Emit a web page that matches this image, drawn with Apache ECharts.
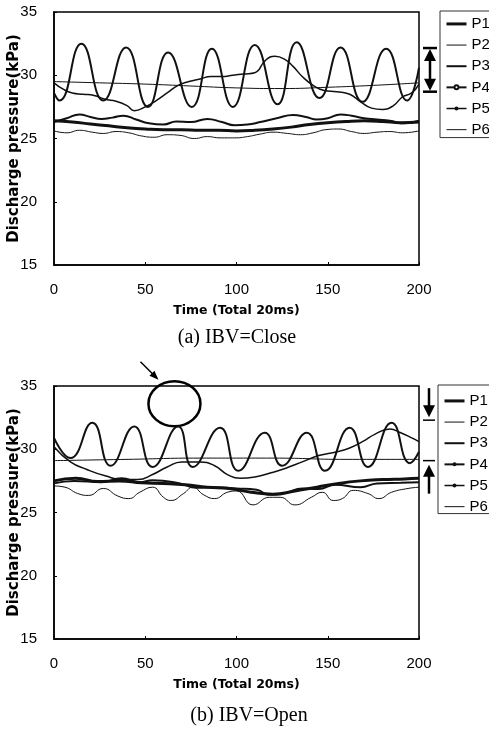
<!DOCTYPE html>
<html>
<head>
    <title>Discharge pressure: IBV Close / Open</title>
    <script src="https://cdn.jsdelivr.net/npm/echarts@6.0.0/dist/echarts.min.js"></script>
    <style>
      body { margin: 0; background: #fff; }
    </style>
</head>
<body>
    <div id="chartA" style="position:absolute; left:0; top:0; width:489px; height:355px;"></div>
    <div id="chartB" style="position:absolute; left:0; top:355px; width:489px; height:374px;"></div>
    <script>
        var seriesNames = ['P1', 'P2', 'P3', 'P4', 'P5', 'P6'];

        // (a) IBV=Close
        var closeP1X = [0, 10, 20, 30, 40, 50, 60, 70, 80, 90, 100, 110, 120, 130, 140, 150, 160, 170, 180, 190, 200];
        var closeP1Y = [26.4, 26.3, 26.15, 26.0, 25.85, 25.75, 25.7, 25.7, 25.65, 25.65, 25.6, 25.65, 25.75, 25.9, 26.1, 26.25, 26.35, 26.4, 26.35, 26.25, 26.3];
        var closeP2X = [0, 25, 50, 75, 100, 125, 150, 175, 200];
        var closeP2Y = [29.5, 29.4, 29.3, 29.15, 29.0, 28.95, 29.05, 29.2, 29.4];
        var closeP3X = [0, 7, 14, 20, 26, 32, 38, 45, 52, 60, 67, 75, 84, 92, 99, 106, 113, 122, 131, 138, 144, 150, 157, 163, 170, 177, 184, 192, 200];
        var closeP3Y = [26.3, 26.6, 26.9, 26.7, 26.55, 26.65, 26.8, 26.5, 26.2, 26.1, 26.35, 26.3, 26.55, 26.3, 26.05, 26.1, 26.3, 26.6, 26.85, 26.7, 26.5, 26.6, 26.9, 26.8, 26.6, 26.5, 26.4, 26.2, 26.4];
        var closeP4X = [0, 3, 15, 27, 39.5, 51.5, 62.5, 75.5, 86.5, 98, 110, 122.5, 133, 145.5, 157, 169, 182, 193.5, 200];
        var closeP4Y = [28.6, 28.0, 32.5, 28.0, 32.2, 27.5, 31.8, 27.5, 32.1, 27.5, 32.4, 27.7, 32.6, 28.2, 32.2, 27.9, 32.1, 28.0, 30.6];
        var closeP5X = [0, 5, 10, 16, 22, 28, 34, 40, 44, 50, 56, 62, 68, 74, 80, 86, 92, 98, 104, 110, 116, 121, 126, 131, 136, 142, 148, 155, 162, 168, 174, 180, 186, 191, 196, 200];
        var closeP5Y = [29.4, 28.9, 28.6, 28.5, 28.4, 28.1, 27.95, 27.6, 27.2, 27.5, 28.0, 28.6, 29.2, 29.5, 29.7, 29.9, 29.9, 30.0, 30.1, 30.2, 31.2, 31.5, 31.3, 30.7, 29.9, 29.2, 28.8, 28.7, 28.5, 27.9, 27.4, 27.3, 27.6, 28.3, 28.6, 29.3];
        var closeP6X = [0, 7, 14, 21, 27, 34, 41, 48, 55, 62, 69, 77, 84, 91, 99, 106, 113, 120, 128, 135, 142, 149, 156, 163, 170, 177, 184, 191, 200];
        var closeP6Y = [25.6, 25.45, 25.65, 25.5, 25.4, 25.55, 25.45, 25.2, 25.1, 25.3, 25.25, 25.0, 25.15, 25.05, 25.05, 25.15, 25.35, 25.5, 25.4, 25.3, 25.45, 25.7, 25.75, 25.55, 25.4, 25.5, 25.55, 25.45, 25.6];

        // (b) IBV=Open
        var openP1X = [0, 12, 24, 36, 48, 60, 72, 84, 96, 108, 120, 132, 144, 156, 168, 180, 192, 200];
        var openP1Y = [27.5, 27.7, 27.45, 27.5, 27.35, 27.3, 27.2, 27.0, 26.9, 26.6, 26.45, 26.7, 27.0, 27.3, 27.5, 27.6, 27.65, 27.7];
        var openP2X = [0, 40, 80, 120, 160, 200];
        var openP2Y = [29.1, 29.2, 29.3, 29.3, 29.2, 29.2];
        var openP3X = [0, 11, 26, 37, 47, 54, 69, 78, 87, 100, 111, 118, 127, 136, 145, 154, 168, 177, 190, 200];
        var openP3Y = [27.3, 27.5, 27.4, 27.7, 27.4, 27.55, 27.3, 26.95, 27.0, 26.9, 26.8, 26.4, 26.55, 26.9, 26.85, 27.2, 27.0, 27.3, 27.35, 27.4];
        var openP4X = [0, 9, 21, 31, 44, 54, 68, 76, 91, 101, 115.5, 125, 138.5, 148.5, 162, 172, 185, 195, 200];
        var openP4Y = [30.9, 29.3, 32.1, 28.7, 31.8, 28.6, 31.8, 28.6, 31.7, 28.3, 31.3, 28.7, 31.3, 28.3, 31.7, 28.6, 32.1, 28.9, 29.8];
        var openP5X = [0, 9, 18, 28, 38, 46, 54, 62, 70, 80, 88, 95, 102, 110, 118, 127, 136, 145, 155, 162, 169, 176, 184, 190, 196, 200];
        var openP5Y = [30.2, 29.0, 28.4, 27.9, 27.6, 27.6, 28.0, 28.6, 29.0, 29.0, 28.7, 28.0, 27.7, 27.8, 28.1, 28.5, 29.0, 29.5, 29.8, 30.1, 30.6, 31.2, 31.6, 31.3, 30.9, 30.6];
        var openP6X = [0, 6, 13, 19, 27, 35, 41, 47, 54, 60, 64, 71, 76, 82, 88, 95, 100, 109, 118, 124, 132, 141, 147, 153, 158, 164, 172, 178, 185, 194, 200];
        var openP6Y = [27.1, 27.0, 26.5, 26.35, 26.9, 26.3, 26.1, 26.6, 27.0, 26.2, 25.95, 26.5, 27.0, 26.4, 26.1, 26.6, 26.7, 25.6, 26.2, 26.2, 25.6, 26.2, 26.6, 25.95, 26.1, 26.75, 26.5, 26.1, 26.6, 26.9, 27.0];

        // annotation values (kPa)
        var closeRange = [28.7, 32.15];   // double arrow, panel (a)
        var openLimits = [29.1, 32.3];    // the two arrows, panel (b)
        var openCircle = [66, 33.6];      // circled peak, panel (b)

        var narrow = "'Liberation Sans Narrow', 'Liberation Sans', sans-serif";
        var lineWidths = { P1: 3, P2: 1, P3: 2, P4: 2, P5: 1.5, P6: 1 };

        function pairs(xs, ys) {
          return xs.map(function (x, i) { return [x, ys[i]]; });
        }

        // line look of each probe; P4/P5 carry markers
        function lineSeries(name, xs, ys, panel) {
          var symbol = 'none';
          if (name === 'P4') symbol = panel === 'a' ? 'emptyCircle' : 'circle';
          if (name === 'P5') symbol = 'circle';
          return {
            type: 'line',
            name: name,
            data: pairs(xs, ys),
            smooth: 0.5,
            symbol: symbol,
            symbolSize: 4,
            showSymbol: false,
            color: '#111',
            lineStyle: { color: '#111', width: lineWidths[name] },
            itemStyle: { color: '#111' }
          };
        }

        function legendData() {
          return seriesNames.map(function (n) {
            var item = { name: n, lineStyle: { width: lineWidths[n] } };
            if (n !== 'P4' && n !== 'P5') item.itemStyle = { opacity: 0 };
            return item;
          });
        }

        function baseOption(gridTop, legendTop, legendLeft, legendPad, series) {
          return {
            animation: false,
            backgroundColor: '#fff',
            grid: {
              left: 54, top: gridTop, width: 365, height: 253,
              outerBoundsMode: 'none', containLabel: false,
              show: true, borderColor: '#000', borderWidth: 1.5, backgroundColor: 'transparent'
            },
            legend: {
              orient: 'vertical',
              left: legendLeft,
              top: legendTop,
              itemWidth: 20,
              itemHeight: 5,
              itemGap: -4.7,
              padding: legendPad,
              borderColor: '#333',
              borderWidth: 1,
              selectedMode: false,
              textStyle: { fontFamily: narrow, fontSize: 15, lineHeight: 15, padding: 0, color: '#000' },
              data: legendData()
            },
            xAxis: {
              type: 'value', min: 0, max: 200, interval: 50,
              name: 'Time (Total 20ms)',
              nameLocation: 'middle',
              nameGap: 32,
              nameMoveOverlap: false,
              nameTextStyle: { fontFamily: 'DejaVu Sans', fontWeight: 'bold', fontSize: 12.5, color: '#000' },
              axisLine: { show: true, lineStyle: { color: '#000', width: 1.5 } },
              axisTick: { show: true, inside: true, length: 3, lineStyle: { color: '#000' } },
              splitLine: { show: false },
              axisLabel: { color: '#000', fontFamily: narrow, fontSize: 15, margin: 12 }
            },
            yAxis: {
              type: 'value', min: 15, max: 35, interval: 5,
              name: 'Discharge pressure(kPa)',
              nameLocation: 'middle',
              nameGap: 24,
              nameMoveOverlap: false,
              nameTextStyle: { fontFamily: 'DejaVu Sans', fontWeight: 'bold', fontSize: 15, color: '#000' },
              axisLine: { show: true, lineStyle: { color: '#000', width: 1.5 } },
              axisTick: { show: true, inside: true, length: 3, lineStyle: { color: '#000' } },
              splitLine: { show: false },
              axisLabel: { color: '#000', fontFamily: narrow, fontSize: 15, margin: 17 }
            },
            series: series
          };
        }

        // ---- panel (a)
        var chartA = echarts.init(document.getElementById('chartA'));
        chartA.setOption(baseOption(12, 11, 440, [0, 3, -5, 5], [
          lineSeries('P1', closeP1X, closeP1Y, 'a'),
          lineSeries('P2', closeP2X, closeP2Y, 'a'),
          lineSeries('P3', closeP3X, closeP3Y, 'a'),
          lineSeries('P4', closeP4X, closeP4Y, 'a'),
          lineSeries('P5', closeP5X, closeP5Y, 'a'),
          lineSeries('P6', closeP6X, closeP6Y, 'a')
        ]));

        var aTop = chartA.convertToPixel({ gridIndex: 0 }, [200, closeRange[1]]);
        var aBot = chartA.convertToPixel({ gridIndex: 0 }, [200, closeRange[0]]);
        var ax = aTop[0] + 11;
        var ink = { stroke: '#000', lineWidth: 2.5 };
        chartA.setOption({
          graphic: [
            { type: 'line', shape: { x1: ax - 7, y1: aTop[1], x2: ax + 7, y2: aTop[1] }, style: ink },
            { type: 'line', shape: { x1: ax - 7, y1: aBot[1], x2: ax + 7, y2: aBot[1] }, style: ink },
            { type: 'line', shape: { x1: ax, y1: aTop[1] + 8, x2: ax, y2: aBot[1] - 8 }, style: ink },
            { type: 'polygon', shape: { points: [[ax, aTop[1] + 1], [ax - 6, aTop[1] + 13], [ax + 6, aTop[1] + 13]] }, style: { fill: '#000' } },
            { type: 'polygon', shape: { points: [[ax, aBot[1] - 1], [ax - 6, aBot[1] - 13], [ax + 6, aBot[1] - 13]] }, style: { fill: '#000' } },
            { type: 'text', x: 237, y: 338, style: { text: '(a) IBV=Close', font: '20px "Liberation Serif"', fill: '#000', textAlign: 'center', textVerticalAlign: 'middle' } }
          ]
        });

        // ---- panel (b)
        var chartB = echarts.init(document.getElementById('chartB'));
        chartB.setOption(baseOption(31, 30, 438, [3, 3, -6, 5], [
          lineSeries('P1', openP1X, openP1Y, 'b'),
          lineSeries('P2', openP2X, openP2Y, 'b'),
          lineSeries('P3', openP3X, openP3Y, 'b'),
          lineSeries('P4', openP4X, openP4Y, 'b'),
          lineSeries('P5', openP5X, openP5Y, 'b'),
          lineSeries('P6', openP6X, openP6Y, 'b')
        ]));

        var bHi = chartB.convertToPixel({ gridIndex: 0 }, [200, openLimits[1]]);
        var bLo = chartB.convertToPixel({ gridIndex: 0 }, [200, openLimits[0]]);
        var cc = chartB.convertToPixel({ gridIndex: 0 }, openCircle);
        var bx = bHi[0] + 10;
        chartB.setOption({
          graphic: [
            // down arrow onto the upper limit
            { type: 'line', shape: { x1: bx - 6, y1: bHi[1], x2: bx + 6, y2: bHi[1] }, style: { stroke: '#000', lineWidth: 1.5 } },
            { type: 'line', shape: { x1: bx, y1: bHi[1] - 32, x2: bx, y2: bHi[1] - 12 }, style: ink },
            { type: 'polygon', shape: { points: [[bx, bHi[1] - 3], [bx - 6, bHi[1] - 15], [bx + 6, bHi[1] - 15]] }, style: { fill: '#000' } },
            // up arrow onto the lower limit
            { type: 'line', shape: { x1: bx - 6, y1: bLo[1], x2: bx + 6, y2: bLo[1] }, style: { stroke: '#000', lineWidth: 1.5 } },
            { type: 'line', shape: { x1: bx, y1: bLo[1] + 12, x2: bx, y2: bLo[1] + 33 }, style: ink },
            { type: 'polygon', shape: { points: [[bx, bLo[1] + 4], [bx - 6, bLo[1] + 16], [bx + 6, bLo[1] + 16]] }, style: { fill: '#000' } },
            // circled peak and pointer
            { type: 'ellipse', shape: { cx: cc[0], cy: cc[1], rx: 26, ry: 22.5 }, style: { fill: 'none', stroke: '#000', lineWidth: 2.5 } },
            { type: 'line', shape: { x1: cc[0] - 34, y1: cc[1] - 42, x2: cc[0] - 20, y2: cc[1] - 28 }, style: { stroke: '#000', lineWidth: 1.5 } },
            { type: 'polygon', shape: { points: [[cc[0] - 16, cc[1] - 24], [cc[0] - 25, cc[1] - 28], [cc[0] - 20, cc[1] - 33]] }, style: { fill: '#000' } },
            { type: 'text', x: 249, y: 361, style: { text: '(b) IBV=Open', font: '20px "Liberation Serif"', fill: '#000', textAlign: 'center', textVerticalAlign: 'middle' } }
          ]
        });
    </script>
</body>
</html>
